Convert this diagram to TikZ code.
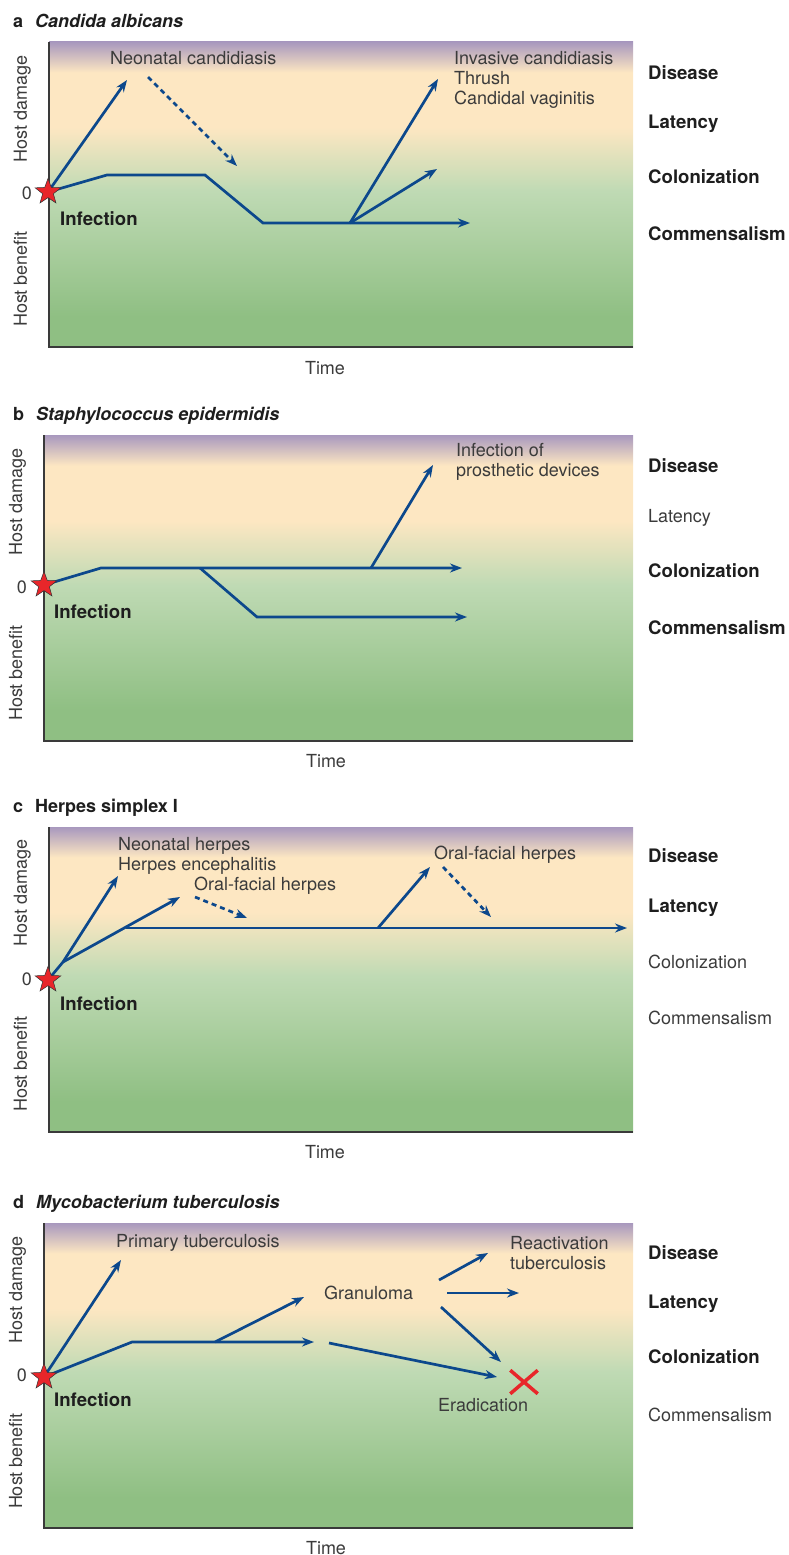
\documentclass[tikz,border=0pt]{standalone}
\usepackage{fontspec}
\setmainfont{TeX Gyre Heros}
\usepackage{xcolor}
\usetikzlibrary{arrows.meta, shapes.geometric, shapes.misc}

\definecolor{pathblue}{RGB}{12,72,140}
\definecolor{axisgrey}{HTML}{3A3A3A}
\definecolor{textgrey}{HTML}{3B3B3B}
\definecolor{textdark}{HTML}{1E1E1E}
\definecolor{infred}{HTML}{E8262A}
\definecolor{bggreen}{HTML}{8FBF83}
\definecolor{bglight}{HTML}{BFDAB4}
\definecolor{bgpeach}{HTML}{FDE7C2}
\definecolor{bgpurple}{HTML}{A898BE}
\pgfdeclareverticalshading{hostbg}{100bp}{color(0bp)=(bggreen); color(30bp)=(bggreen);
  color(50.5bp)=(bglight); color(61bp)=(bgpeach); color(70bp)=(bgpeach);
  color(75bp)=(bgpurple); color(100bp)=(bgpurple)}

\begin{document}
\begin{tikzpicture}[
  x=1pt, y=-1pt,
  font=\fontsize{18}{20}\selectfont,
  lbl/.style={anchor=base west, inner sep=0pt, text=textgrey},
  blbl/.style={lbl, font=\fontsize{18.6}{20}\selectfont\bfseries, text=textdark},
  multi/.style={anchor=north west, inner sep=0pt, align=left, text=textgrey},
  title/.style={lbl, font=\fontsize{18}{20}\selectfont\bfseries, text=textdark},
  axlbl/.style={anchor=base, inner sep=0pt, text=textgrey},
  zero/.style={anchor=base east, inner sep=0pt, text=textgrey},
  axisline/.style={draw=axisgrey, line width=1.3pt},
  infstar/.style={star, star points=5, star point ratio=2.4, minimum size=27pt,
                  inner sep=0pt, fill=infred, draw=black!80, line width=0.5pt},
  traj/.style={draw=pathblue, line width=2.7pt},
  arr/.style={traj, -{Stealth[length=12pt, width=9pt]}},
  darr/.style={arr, dash pattern=on 5pt off 4pt},
]
\useasboundingbox (0,0) rectangle (788,1555);

%% Panel a
\node[title] (ta) at (13,28) {a\hspace{12pt}\textit{Candida albicans}};
\fill[shading=hostbg] (49,42) rectangle (633,347);
\draw[axisline] (49,42) -- (49,347) -- (633,347);
\node[axlbl, rotate=90] (hda) at (27,109) {Host damage};
\node[axlbl, rotate=90] (hba) at (27,279) {Host benefit};
\node[zero] (za) at (32,199.5) {0};
\node[axlbl] (tia) at (325,374.5) {Time};
\node[blbl] (ia) at (60,225.5) {Infection};
\node[lbl]  (neo) at (110,64.5) {Neonatal candidiasis};
\node[multi] (inv) at (454,51.5) {Invasive candidiasis\\Thrush\\Candidal vaginitis};
\node[blbl] at (648,79.5)  (dis-a) {Disease};
\node[blbl] at (648,128.5) (lat-a) {Latency};
\node[blbl] at (648,183.5) (col-a) {Colonization};
\node[blbl] at (648,240.5) (com-a) {Commensalism};
\coordinate (a0) at (48,192);
\coordinate (a1) at (107,175);
\coordinate (a2) at (205,175);
\coordinate (a3) at (263,223);
\coordinate (a4) at (350,223);
\coordinate (a5) at (470,223);
\coordinate (a6) at (127,80);
\coordinate (a7) at (148,77);
\coordinate (a8) at (237,166);
\coordinate (a9) at (438,79);
\coordinate (a10) at (437,169);
\draw[arr]  (a0) -- (a1) -- (a2) -- (a3) -- (a4) -- (a5);
\draw[arr]  (a0) -- (a6);
\draw[darr] (a7) -- (a8);
\draw[arr]  (a4) -- (a9);
\draw[arr]  (a4) -- (a10);
\node[infstar] (sa) at (a0) {};

%% Panel b
\node[title] (tb) at (13,420.5) {b\hspace{12pt}\textit{Staphylococcus epidermidis}};
\fill[shading=hostbg] (44,435) rectangle (633,741);
\draw[axisline] (44,435) -- (44,741) -- (633,741);
\node[axlbl, rotate=90] (hdb) at (22,502) {Host damage};
\node[axlbl, rotate=90] (hbb) at (22,673) {Host benefit};
\node[zero] (zb) at (27,593.5) {0};
\node[axlbl] (tib) at (326,767.5) {Time};
\node[blbl] (ib) at (54,618.5) {Infection};
\node[multi] (pros) at (456,443.5) {Infection of\\prosthetic devices};
\node[blbl] at (648,472.5) (dis-b) {Disease};
\node[lbl]  at (648,522.5) (lat-b) {Latency};
\node[blbl] at (648,577.5) (col-b) {Colonization};
\node[blbl] at (648,634.5) (com-b) {Commensalism};
\coordinate (b0) at (44,585);
\coordinate (b1) at (101,568);
\coordinate (b2) at (200,568);
\coordinate (b3) at (371,568);
\coordinate (b4) at (462,568);
\coordinate (b5) at (257,617);
\coordinate (b6) at (467,617);
\coordinate (b7) at (433,465);
\draw[arr] (b0) -- (b1) -- (b4);
\draw[arr] (b2) -- (b5) -- (b6);
\draw[arr] (b3) -- (b7);
\node[infstar] (sb) at (b0) {};

%% Panel c
\node[title] (tc) at (13,812.5) {c\hspace{12pt}Herpes simplex I};
\fill[shading=hostbg] (49,827) rectangle (633,1132);
\draw[axisline] (49,827) -- (49,1132) -- (633,1132);
\node[axlbl, rotate=90] (hdc) at (27,893) {Host damage};
\node[axlbl, rotate=90] (hbc) at (27,1064) {Host benefit};
\node[zero] (zc) at (32,985.5) {0};
\node[axlbl] (tic) at (325,1158.5) {Time};
\node[blbl] (ic) at (60,1010.5) {Infection};
\node[multi] (neoh) at (118,837.5) {Neonatal herpes\\Herpes encephalitis};
\node[lbl] (ofh1) at (194,890.5) {Oral-facial herpes};
\node[lbl] (ofh2) at (434,859.5) {Oral-facial herpes};
\node[blbl] at (648,862.5)  (dis-c) {Disease};
\node[blbl] at (648,912.5)  (lat-c) {Latency};
\node[lbl]  at (648,968.5)  (col-c) {Colonization};
\node[lbl]  at (648,1024.5) (com-c) {Commensalism};
\coordinate (c0) at (48,980);
\coordinate (c1) at (63,962);
\coordinate (c2) at (118,876);
\coordinate (c3) at (126,928);
\coordinate (c4) at (180,897);
\coordinate (c5) at (378,928);
\coordinate (c6) at (627,928);
\coordinate (c7) at (430,867);
\coordinate (c8) at (195,897);
\coordinate (c9) at (247,918);
\coordinate (c10) at (443,867);
\coordinate (c11) at (491,917);
\draw[arr]  (c0) -- (c1) -- (c2);
\draw[arr]  (c1) -- (c4);
\draw[arr]  (c3) -- (c6);
\draw[arr]  (c5) -- (c7);
\draw[darr] (c8) -- (c9);
\draw[darr] (c10) -- (c11);
\node[infstar] (sc) at (c0) {};

%% Panel d
\node[title] (td) at (13,1208.5) {d\hspace{12pt}\textit{Mycobacterium tuberculosis}};
\fill[shading=hostbg] (44,1223) rectangle (633,1528);
\draw[axisline] (44,1223) -- (44,1528) -- (633,1528);
\node[axlbl, rotate=90] (hdd) at (22,1290) {Host damage};
\node[axlbl, rotate=90] (hbd) at (22,1461) {Host benefit};
\node[zero] (zd) at (27,1381.5) {0};
\node[axlbl] (tid) at (326,1554) {Time};
\node[blbl] (id) at (54,1406.5) {Infection};
\node[lbl] (prim) at (116,1247.5) {Primary tuberculosis};
\node[multi] (react) at (510,1236.5) {Reactivation\\tuberculosis};
\node[lbl] (gran) at (324,1299.5) {Granuloma};
\node[lbl] (erad) at (438,1411.5) {Eradication};
\node[blbl] at (648,1259.5) (dis-d) {Disease};
\node[blbl] at (648,1308.5) (lat-d) {Latency};
\node[blbl] at (648,1363.5) (col-d) {Colonization};
\node[lbl]  at (648,1421.5) (com-d) {Commensalism};
\coordinate (d0) at (44,1377);
\coordinate (d1) at (121,1260);
\coordinate (d2) at (132,1342);
\coordinate (d3) at (215,1342);
\coordinate (d4) at (314,1342);
\coordinate (d5) at (304,1297);
\coordinate (d6) at (329,1343);
\coordinate (d7) at (497,1377);
\coordinate (d8) at (439,1280);
\coordinate (d9) at (488,1253);
\coordinate (d10) at (447,1293);
\coordinate (d11) at (519,1293);
\coordinate (d12) at (441,1307);
\coordinate (d13) at (501,1362);
\draw[arr] (d0) -- (d1);
\draw[arr] (d0) -- (d2) -- (d4);
\draw[arr] (d3) -- (d5);
\draw[arr] (d6) -- (d7);
\draw[arr] (d8) -- (d9);
\draw[arr] (d10) -- (d11);
\draw[arr] (d12) -- (d13);
\node[cross out, draw=infred, line width=3.5pt, minimum width=24pt,
      minimum height=20pt, inner sep=0pt] (xd) at (524,1382) {};
\node[infstar] (sd) at (d0) {};
\end{tikzpicture}
\end{document}
